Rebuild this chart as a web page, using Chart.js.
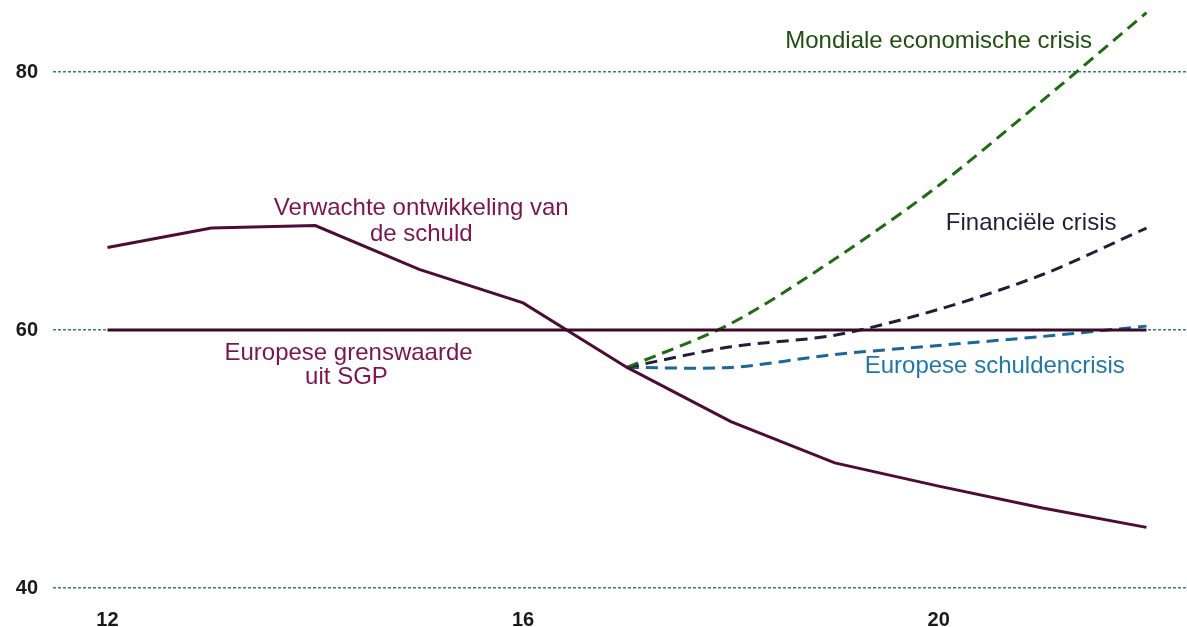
<!DOCTYPE html>
<html>
<head>
<meta charset="utf-8">
<script src="https://cdn.jsdelivr.net/npm/chart.js@4"></script>
<style>
  html, body { margin: 0; padding: 0; background: #fff; }
  #wrap { width: 1187px; height: 627px; position: relative; }
</style>
</head>
<body>
<div id="wrap"><canvas id="schuld"></canvas></div>
<script>
// Jaren en waarden (schuld in % bbp)
const jaren = [12, 13, 14, 15, 16, 17, 18, 19, 20, 21, 22];
const verwacht = [66.4, 67.9, 68.1, 64.7, 62.1, 57.1, 52.9, 49.7, 47.9, 46.2, 44.7];
const scenarioJaren = [17, 18, 19, 20, 21, 22];
const mondiaal = [57.1, 60.5, 65.5, 71.2, 77.8, 84.6];
const financieel = [57.1, 58.7, 59.6, 61.6, 64.3, 67.9];
const europees = [57.1, 57.1, 58.1, 58.8, 59.5, 60.3];
const grensJaren = [12, 22];
const grenswaarde = [60, 60];
const xTicks = [12, 16, 20];
const yTicks = [40, 60, 80];

// Teksten bij de lijnen, geplaatst in data-coördinaten
const teksten = [
  { text: 'Verwachte ontwikkeling van', x: 15.02, y: 69.4, color: '#7a1550' },
  { text: 'de schuld', x: 15.02, y: 67.45, color: '#7a1550' },
  { text: 'Europese grenswaarde', x: 14.32, y: 58.15, color: '#7a1550' },
  { text: 'uit SGP', x: 14.3, y: 56.3, color: '#7a1550' },
  { text: 'Mondiale economische crisis', x: 20.0, y: 82.4, color: '#1f4f10' },
  { text: 'Financiële crisis', x: 20.89, y: 68.3, color: '#231d3a' },
  { text: 'Europese schuldencrisis', x: 20.54, y: 57.2, color: '#1f78a8' }
];

function punten(xs, ys) {
  return xs.map((x, i) => ({ x: x, y: ys[i] }));
}

const tekstPlugin = {
  id: 'tekst',
  afterDatasetsDraw(chart) {
    const { ctx, scales: { x, y } } = chart;
    ctx.save();
    ctx.font = '24px "Liberation Sans", Arial, sans-serif';
    ctx.textAlign = 'center';
    ctx.textBaseline = 'middle';
    teksten.forEach(t => {
      ctx.fillStyle = t.color;
      ctx.fillText(t.text, x.getPixelForValue(t.x), y.getPixelForValue(t.y));
    });
    ctx.restore();
  }
};

const ctx = document.getElementById('schuld').getContext('2d');
new Chart(ctx, {
  type: 'line',
  data: {
    datasets: [
      {
        label: 'Europese grenswaarde uit SGP',
        data: punten(grensJaren, grenswaarde),
        borderColor: '#3a0a28',
        borderWidth: 3,
        pointRadius: 0
      },
      {
        label: 'Verwachte ontwikkeling van de schuld',
        data: punten(jaren, verwacht),
        borderColor: '#4d0c35',
        borderWidth: 3,
        pointRadius: 0,
        tension: 0
      },
      {
        label: 'Mondiale economische crisis',
        data: punten(scenarioJaren, mondiaal),
        borderColor: '#1f6b12',
        borderWidth: 3,
        borderDash: [12, 7],
        pointRadius: 0,
        tension: 0.3
      },
      {
        label: 'Financiële crisis',
        data: punten(scenarioJaren, financieel),
        borderColor: '#231d3a',
        borderWidth: 3,
        borderDash: [12, 7],
        pointRadius: 0,
        tension: 0.3
      },
      {
        label: 'Europese schuldencrisis',
        data: punten(scenarioJaren, europees),
        borderColor: '#1b6898',
        borderWidth: 3,
        borderDash: [12, 7],
        pointRadius: 0,
        tension: 0.3
      }
    ]
  },
  options: {
    responsive: true,
    maintainAspectRatio: false,
    animation: false,
    layout: { padding: 0 },
    plugins: {
      legend: { display: false },
      tooltip: { enabled: false }
    },
    scales: {
      x: {
        type: 'linear',
        min: 11.4755,
        max: 22.39,
        afterBuildTicks: axis => { axis.ticks = xTicks.map(v => ({ value: v })); },
        afterFit: axis => { axis.height = 27; axis.paddingLeft = 0; axis.paddingRight = 0; },
        grid: { display: false, drawTicks: false },
        border: { display: false },
        ticks: {
          autoSkip: false,
          maxRotation: 0,
          padding: 8,
          color: '#1a1a1a',
          font: { family: '"Liberation Sans", Arial, sans-serif', size: 20, weight: 'bold' }
        }
      },
      y: {
        min: 39.07,
        max: 85.58,
        afterBuildTicks: axis => { axis.ticks = yTicks.map(v => ({ value: v })); },
        afterFit: axis => { axis.width = 53; axis.paddingTop = 0; axis.paddingBottom = 0; },
        grid: { color: '#3a7785', lineWidth: 1.5, drawTicks: false },
        border: { display: false, dash: [3, 2] },
        ticks: {
          padding: 15,
          color: '#1a1a1a',
          font: { family: '"Liberation Sans", Arial, sans-serif', size: 20, weight: 'bold' }
        }
      }
    }
  },
  plugins: [tekstPlugin]
});
</script>
</body>
</html>
